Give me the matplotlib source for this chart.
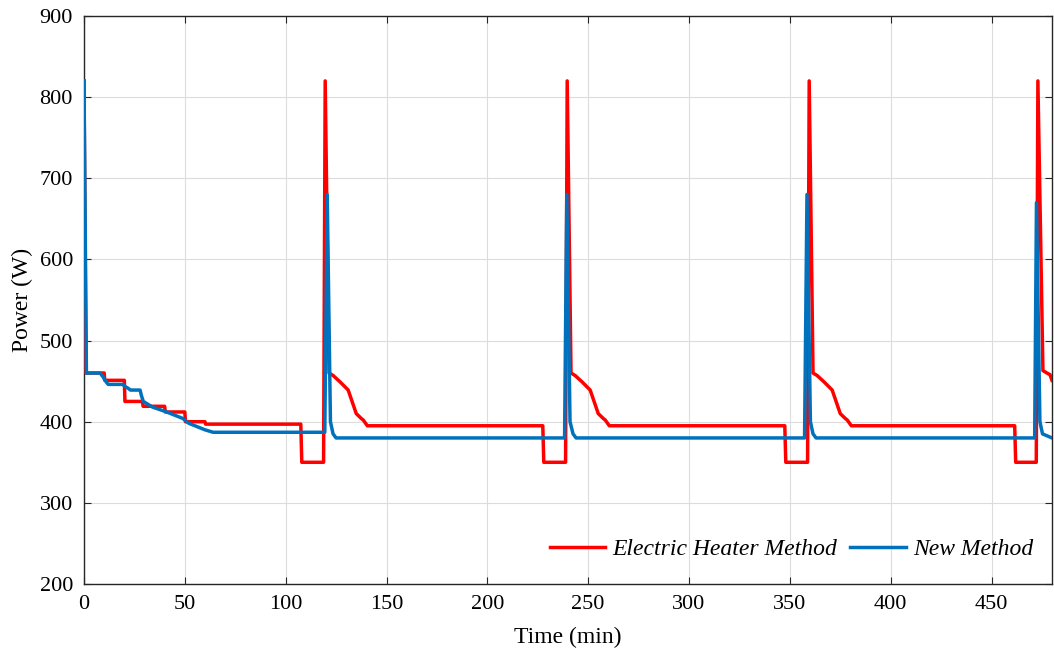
import matplotlib
matplotlib.use('Agg')
import matplotlib.pyplot as plt

# Electric heater method (red)
t_heater = [0, 1, 10, 10.3, 20, 20.3, 29, 29.3, 40, 40.3, 50, 50.3, 60, 60.3,
            107.5, 108, 118.8, 119.6, 121.5, 123.5, 127, 131, 135, 137.5, 138.5, 140.5,
            227.5, 228, 238.8, 239.6, 241.5, 243.5, 247, 251, 255, 257.5, 258.5, 260.5,
            347.5, 348, 358.8, 359.6, 361.5, 363.5, 367, 371, 375, 377.5, 378.5, 380.5,
            461.5, 462, 472.2, 473, 475.5, 477.5, 479, 480]
p_heater = [820, 460, 460, 451, 451, 425, 425, 419, 419, 412, 412, 400, 400, 397,
            397, 350, 350, 820, 460, 457, 449, 439, 410, 404, 402, 395,
            395, 350, 350, 820, 460, 457, 449, 439, 410, 404, 402, 395,
            395, 350, 350, 820, 460, 457, 449, 439, 410, 404, 402, 395,
            395, 350, 350, 820, 463, 460, 458, 451]

# New method (blue)
t_new = [0, 1.2, 8, 9.5, 11, 12, 19.5, 20, 22, 23, 27.8, 28.5, 29.4, 34, 41, 45,
         49, 52, 56, 60, 64,
         119.4, 120.6, 122.2, 123.5, 125,
         238.3, 239.4, 241, 242.5, 244,
         357.3, 358.5, 360.2, 361.5, 363,
         471.4, 472.3, 474.0, 475.3, 480]
p_new = [820, 460, 460, 455, 449, 446, 446, 444, 441, 439, 439, 432, 425, 418, 412, 408,
         404, 398, 394, 390, 387,
         387, 680, 400, 385, 380,
         380, 680, 400, 385, 380,
         380, 680, 400, 385, 380,
         380, 670, 400, 385, 380]

xticks = list(range(0, 451, 50))
yticks = list(range(200, 901, 100))

plt.rcParams['font.family'] = ['Liberation Serif', 'DejaVu Serif']

fig = plt.figure(figsize=(10.54, 6.54), dpi=100)
ax = fig.add_axes([84 / 1054, 1 - 584 / 654, 968 / 1054, 568 / 654])

ax.plot(t_heater, p_heater, color='#FF0000', lw=2.5, label='Electric Heater Method', zorder=3)
ax.plot(t_new, p_new, color='#0072BD', lw=2.5, label='New Method', zorder=4)

ax.set_xlim(0, 480)
ax.set_ylim(200, 900)
ax.set_xticks(xticks)
ax.set_yticks(yticks)
ax.grid(True, color='#dcdcdc', lw=0.8)
ax.set_axisbelow(True)
ax.tick_params(direction='in', top=True, right=True, labelsize=16, length=5,
               color='#262626', pad=8)
for s in ax.spines.values():
    s.set_color('#262626')
    s.set_linewidth(1.0)

ax.set_xlabel('Time (min)', fontsize=17, labelpad=9)
ax.set_ylabel('Power (W)', fontsize=17, labelpad=5)

leg = ax.legend(loc='lower right', ncol=2, frameon=False, handlelength=2.35,
                prop={'style': 'italic', 'size': 17}, columnspacing=0.55,
                handletextpad=0.3, bbox_to_anchor=(1.0, 0.009), borderaxespad=0.4)

fig.savefig('out.png', dpi=100)
